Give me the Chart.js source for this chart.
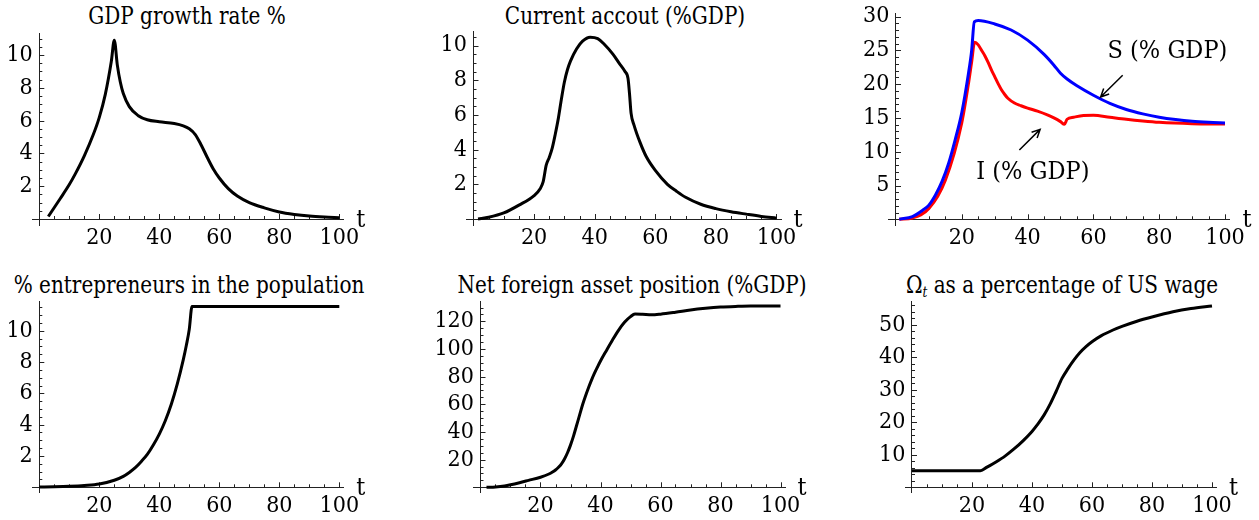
<!DOCTYPE html>
<html>
<head>
<meta charset="utf-8">
<script src="https://cdn.jsdelivr.net/npm/chart.js@4.4.1/dist/chart.umd.min.js"></script>
<style>
  body { margin: 0; background: #fff; width: 1259px; height: 520px; position: relative; overflow: hidden; }
  canvas { position: absolute; }
  .title { position: absolute; font-family: "DejaVu Serif Condensed", "DejaVu Serif", serif; font-stretch: condensed;
           font-size: 25px; line-height: 30px; white-space: nowrap; color: #000;
           transform: translateX(-50%) scaleX(0.89); }
  .title sub { font-size: 15px; font-style: italic; vertical-align: -4px; line-height: 0; }
</style>
</head>
<body>
<div class="title" style="left:187px;top:1px">GDP growth rate %</div>
<div class="title" style="left:625px;top:1px">Current accout (%GDP)</div>
<div class="title" style="left:189px;top:270px">% entrepreneurs in the population</div>
<div class="title" style="left:632px;top:270px">Net foreign asset position (%GDP)</div>
<div class="title" style="left:1062px;top:270px">&Omega;<sub>t</sub> as a percentage of US wage</div>

<canvas id="c1" width="420" height="260" style="left:0;top:0"></canvas>
<canvas id="c2" width="420" height="260" style="left:420px;top:0"></canvas>
<canvas id="c3" width="419" height="260" style="left:840px;top:0"></canvas>
<canvas id="c4" width="420" height="260" style="left:0;top:260px"></canvas>
<canvas id="c5" width="420" height="260" style="left:420px;top:260px"></canvas>
<canvas id="c6" width="419" height="260" style="left:840px;top:260px"></canvas>

<script>
// values
var xTickLabels = [20, 40, 60, 80, 100];

var gdpT      = [3, 5, 7, 10, 12, 15, 18, 20, 22, 24, 25, 26, 27, 28, 30, 33, 36, 40, 45, 48, 50, 52, 54, 56, 58, 60, 63, 66, 70, 75, 80, 85, 90, 95, 100];
var gdpGrowth = [0.15, 0.7, 1.25, 2.1, 2.75, 3.85, 5.15, 6.2, 7.6, 9.6, 10.9, 9.4, 8.35, 7.65, 6.85, 6.3, 6.05, 5.93, 5.82, 5.68, 5.5, 5.15, 4.5, 3.75, 3.05, 2.5, 1.85, 1.4, 1.0, 0.68, 0.43, 0.28, 0.18, 0.12, 0.08];
var gdpYTicks = [2, 4, 6, 8, 10];

var caT            = [1.5, 5, 10, 15, 20, 22, 23, 24, 25, 26, 27, 28, 29, 30, 31, 32, 34, 36, 38.5, 41, 43, 46, 48, 50, 51, 51.5, 52, 53, 55, 57, 60, 64, 67, 70, 75, 80, 85, 90, 95, 100];
var currentAccount = [0, 0.1, 0.35, 0.8, 1.35, 1.75, 2.15, 3.1, 3.55, 4.1, 4.9, 5.8, 6.9, 7.9, 8.6, 9.1, 9.8, 10.25, 10.48, 10.4, 10.1, 9.5, 9.0, 8.5, 8.1, 7.2, 6.1, 5.4, 4.4, 3.6, 2.8, 2.0, 1.6, 1.25, 0.85, 0.6, 0.42, 0.28, 0.15, 0.05];
var caYTicks = [2, 4, 6, 8, 10];

var sT     = [1, 5, 8, 10, 12, 14, 16, 18, 20, 22, 23, 23.8, 25, 30, 35, 40, 45, 48, 50, 52, 55, 60, 65, 70, 75, 80, 85, 90, 95, 100];
var saving = [0, 0.4, 1.3, 2.1, 3.6, 5.6, 8.3, 11.8, 15.8, 21.5, 25.0, 29.2, 29.4, 28.9, 28.0, 26.5, 24.4, 22.8, 21.6, 20.75, 19.75, 18.35, 17.15, 16.25, 15.6, 15.1, 14.75, 14.5, 14.35, 14.25];
var iT         = [1, 5, 10, 15, 20, 22, 23, 23.9, 25, 26, 27, 28, 29, 30, 31, 32, 33, 34, 36, 38, 40, 43, 46, 48, 50, 51.2, 52, 54, 57, 60, 65, 70, 75, 80, 90, 100];
var investment = [0, 0.2, 1.6, 5.8, 14.3, 20.0, 23.3, 26.2, 25.8, 25.0, 24.2, 23.2, 22.1, 21.1, 20.1, 19.2, 18.5, 17.9, 17.2, 16.8, 16.45, 16.0, 15.45, 15.0, 14.45, 14.05, 14.8, 15.1, 15.35, 15.4, 15.1, 14.8, 14.55, 14.35, 14.15, 14.1];
var siYTicks = [5, 10, 15, 20, 25, 30];

var entT          = [0, 5, 10, 15, 20, 25, 28, 30, 32, 34, 36, 38, 40, 42, 44, 46, 48, 49, 50, 50.9, 60, 70, 80, 90, 100];
var entrepreneurs = [0.02, 0.04, 0.07, 0.12, 0.21, 0.45, 0.7, 0.95, 1.25, 1.65, 2.1, 2.7, 3.4, 4.25, 5.3, 6.6, 8.15, 9.05, 10.1, 11.55, 11.55, 11.55, 11.55, 11.55, 11.55];
var entYTicks = [2, 4, 6, 8, 10];

var nfaT        = [2, 5, 8, 10, 13, 16, 20, 23, 24, 25, 26, 27, 28, 29, 30, 31, 32, 33, 34, 35, 36, 37, 38, 39, 40, 42, 44, 46, 48, 50, 51.5, 54, 57, 60, 65, 70, 75, 80, 85, 90, 100];
var nfaPosition = [0, 0.3, 1.0, 1.8, 3.3, 5.0, 7.3, 9.8, 11, 12.5, 14.5, 17, 20.5, 25, 30.5, 37, 44.5, 52, 59.5, 66, 72, 77.5, 82.5, 87, 91.3, 99, 106.5, 113.5, 119.3, 123.4, 125.3, 125.1, 124.7, 125.2, 126.6, 128.2, 129.4, 130.3, 130.8, 131.1, 131.1];
var nfaYTicks = [20, 40, 60, 80, 100, 120];

var omegaT    = [0, 10, 22.8, 25, 28, 31, 34, 37, 40, 42, 44, 46, 48, 50, 52, 54, 56, 58, 60, 63, 67, 70, 75, 80, 87, 93, 100];
var omegaWage = [5.1, 5.1, 5.1, 6.2, 7.8, 9.6, 11.8, 14.3, 17.2, 19.5, 22.2, 25.5, 29.4, 33.5, 36.5, 39.2, 41.5, 43.3, 44.8, 46.6, 48.4, 49.5, 51.1, 52.4, 54.0, 55.0, 55.8];
var omegaYTicks = [10, 20, 30, 40, 50];

function pts(xs, ys) {
  return xs.map(function (x, i) { return { x: x, y: ys[i] }; });
}

var serif = "'DejaVu Serif Condensed', 'DejaVu Serif', serif";
var tickFont = { family: serif, size: 23 };

// inward Mathematica-style ticks, major + minor
var inwardTicks = {
  id: 'inwardTicks',
  beforeDatasetsDraw: function (chart, args, opts) {
    var ctx = chart.ctx, xs = chart.scales.x, ys = chart.scales.y;
    var x0 = xs.getPixelForValue(0), y0 = ys.getPixelForValue(0);
    ctx.save();
    ctx.strokeStyle = '#222';
    ctx.lineWidth = 1;
    ctx.beginPath();
    for (var k = 1; k * opts.xMinor <= 100.001; k++) {
      var px = Math.round(xs.getPixelForValue(k * opts.xMinor)) + 0.5;
      var len = (k % opts.xEvery === 0) ? 5 : 3;
      ctx.moveTo(px, y0); ctx.lineTo(px, y0 - len);
    }
    for (var j = 1; j * opts.yMinor <= ys.max; j++) {
      var py = Math.round(ys.getPixelForValue(j * opts.yMinor)) + 0.5;
      var l2 = (j % opts.yEvery === 0) ? 5 : 3;
      ctx.moveTo(x0, py); ctx.lineTo(x0 + l2, py);
    }
    ctx.stroke();
    // axis name "t" after the end of the time axis
    ctx.fillStyle = '#000';
    ctx.font = '25px ' + serif;
    ctx.textAlign = 'center';
    ctx.textBaseline = 'alphabetic';
    ctx.fillText('t', xs.right + 17, y0 + 8);
    ctx.restore();
  }
};

// labels and arrows for the S / I panel
var notes = {
  id: 'notes',
  afterDatasetsDraw: function (chart, args, opts) {
    if (!opts.items) return;
    var ctx = chart.ctx, xs = chart.scales.x, ys = chart.scales.y;
    ctx.save();
    ctx.fillStyle = '#000';
    ctx.strokeStyle = '#000';
    ctx.lineWidth = 1.5;
    ctx.font = '25px ' + serif;
    ctx.textAlign = 'center';
    ctx.textBaseline = 'middle';
    opts.items.forEach(function (it) {
      ctx.fillText(it.text, xs.getPixelForValue(it.tx), ys.getPixelForValue(it.ty));
      var ax = xs.getPixelForValue(it.from[0]), ay = ys.getPixelForValue(it.from[1]);
      var bx = xs.getPixelForValue(it.to[0]), by = ys.getPixelForValue(it.to[1]);
      var ang = Math.atan2(by - ay, bx - ax), h = 9;
      ctx.beginPath();
      ctx.moveTo(ax, ay); ctx.lineTo(bx, by);
      ctx.moveTo(bx - h * Math.cos(ang - 0.45), by - h * Math.sin(ang - 0.45));
      ctx.lineTo(bx, by);
      ctx.lineTo(bx - h * Math.cos(ang + 0.45), by - h * Math.sin(ang + 0.45));
      ctx.stroke();
    });
    ctx.restore();
  }
};

function noPad(scale) {
  scale.paddingLeft = 0; scale.paddingRight = 0;
  scale.paddingTop = 0; scale.paddingBottom = 0;
}

function makePanel(id, cell, geo, series, yTicks, minor, extra) {
  var xMin = -2.2, xMax = 101.5;
  var left = geo.ox + xMin * geo.ppx, right = geo.ox + xMax * geo.ppx;
  var top = geo.oy - geo.yMax * geo.ppy, bottom = geo.oy - geo.yMin * geo.ppy;
  var datasets = series.map(function (s) {
    return {
      data: s.data, borderColor: s.color, borderWidth: 3, pointRadius: 0,
      cubicInterpolationMode: 'monotone', fill: false
    };
  });
  return new Chart(document.getElementById(id), {
    type: 'line',
    data: { datasets: datasets },
    options: {
      responsive: false,
      animation: false,
      events: [],
      layout: { padding: { left: left - cell[0], right: cell[0] + cell[2] - right,
                           top: top - cell[1], bottom: cell[1] + cell[3] - bottom } },
      plugins: {
        legend: { display: false },
        tooltip: { enabled: false },
        inwardTicks: minor,
        notes: extra || {}
      },
      scales: {
        x: {
          type: 'linear', min: xMin, max: xMax, position: { y: 0 },
          grid: { display: true, drawOnChartArea: false, drawTicks: false },
          border: { display: true, color: '#222', width: 1 },
          ticks: { font: tickFont, color: '#000', padding: 5, maxRotation: 0, autoSkip: false },
          afterBuildTicks: function (s) { s.ticks = xTickLabels.map(function (v) { return { value: v }; }); },
          afterFit: noPad
        },
        y: {
          type: 'linear', min: geo.yMin, max: geo.yMax, position: { x: 0 },
          grid: { display: true, drawOnChartArea: false, drawTicks: false },
          border: { display: true, color: '#222', width: 1 },
          ticks: { font: tickFont, color: '#000', padding: 5, autoSkip: false,
                   callback: function (v) { return v + ' '; } },
          afterBuildTicks: function (s) { s.ticks = yTicks.map(function (v) { return { value: v }; }); },
          afterFit: noPad
        }
      }
    },
    plugins: [inwardTicks, notes]
  });
}

var fine = { xMinor: 5, xEvery: 4, yMinor: 0.5, yEvery: 4 };

makePanel('c1', [0, 0, 420, 260], { ox: 39.3, oy: 219, ppx: 3.0, ppy: 16.4, yMin: -0.37, yMax: 11.32 },
  [{ data: pts(gdpT, gdpGrowth), color: '#000' }], gdpYTicks, fine);

makePanel('c2', [420, 0, 420, 260], { ox: 473.5, oy: 219, ppx: 3.03, ppy: 17.35, yMin: -0.35, yMax: 10.8 },
  [{ data: pts(caT, currentAccount), color: '#000' }], caYTicks, fine);

makePanel('c3', [840, 0, 419, 260], { ox: 896, oy: 219.3, ppx: 3.29, ppy: 6.76, yMin: -0.85, yMax: 30.45 },
  [{ data: pts(sT, saving), color: '#0000ff' }, { data: pts(iT, investment), color: '#ff0000' }],
  siYTicks, { xMinor: 5, xEvery: 4, yMinor: 1, yEvery: 5 },
  { items: [
    { text: 'S (% GDP)', tx: 82.5, ty: 24.75, from: [68.9, 21.3], to: [62.2, 18.1] },
    { text: 'I (% GDP)', tx: 41.6, ty: 6.85, from: [37.5, 10.25], to: [43.8, 13.3] }
  ] });

makePanel('c4', [0, 260, 420, 260], { ox: 39.3, oy: 487.3, ppx: 3.0, ppy: 15.66, yMin: -0.36, yMax: 11.85 },
  [{ data: pts(entT, entrepreneurs), color: '#000' }], entYTicks, fine);

makePanel('c5', [420, 260, 420, 260], { ox: 480.5, oy: 487.3, ppx: 3.0, ppy: 1.383, yMin: -4.1, yMax: 134.2 },
  [{ data: pts(nfaT, nfaPosition), color: '#000' }], nfaYTicks, { xMinor: 5, xEvery: 4, yMinor: 5, yEvery: 4 });

makePanel('c6', [840, 260, 419, 260], { ox: 912, oy: 487.3, ppx: 3.0, ppy: 3.25, yMin: -1.75, yMax: 57.1 },
  [{ data: pts(omegaT, omegaWage), color: '#000' }], omegaYTicks, { xMinor: 5, xEvery: 4, yMinor: 2, yEvery: 5 });
</script>
</body>
</html>
